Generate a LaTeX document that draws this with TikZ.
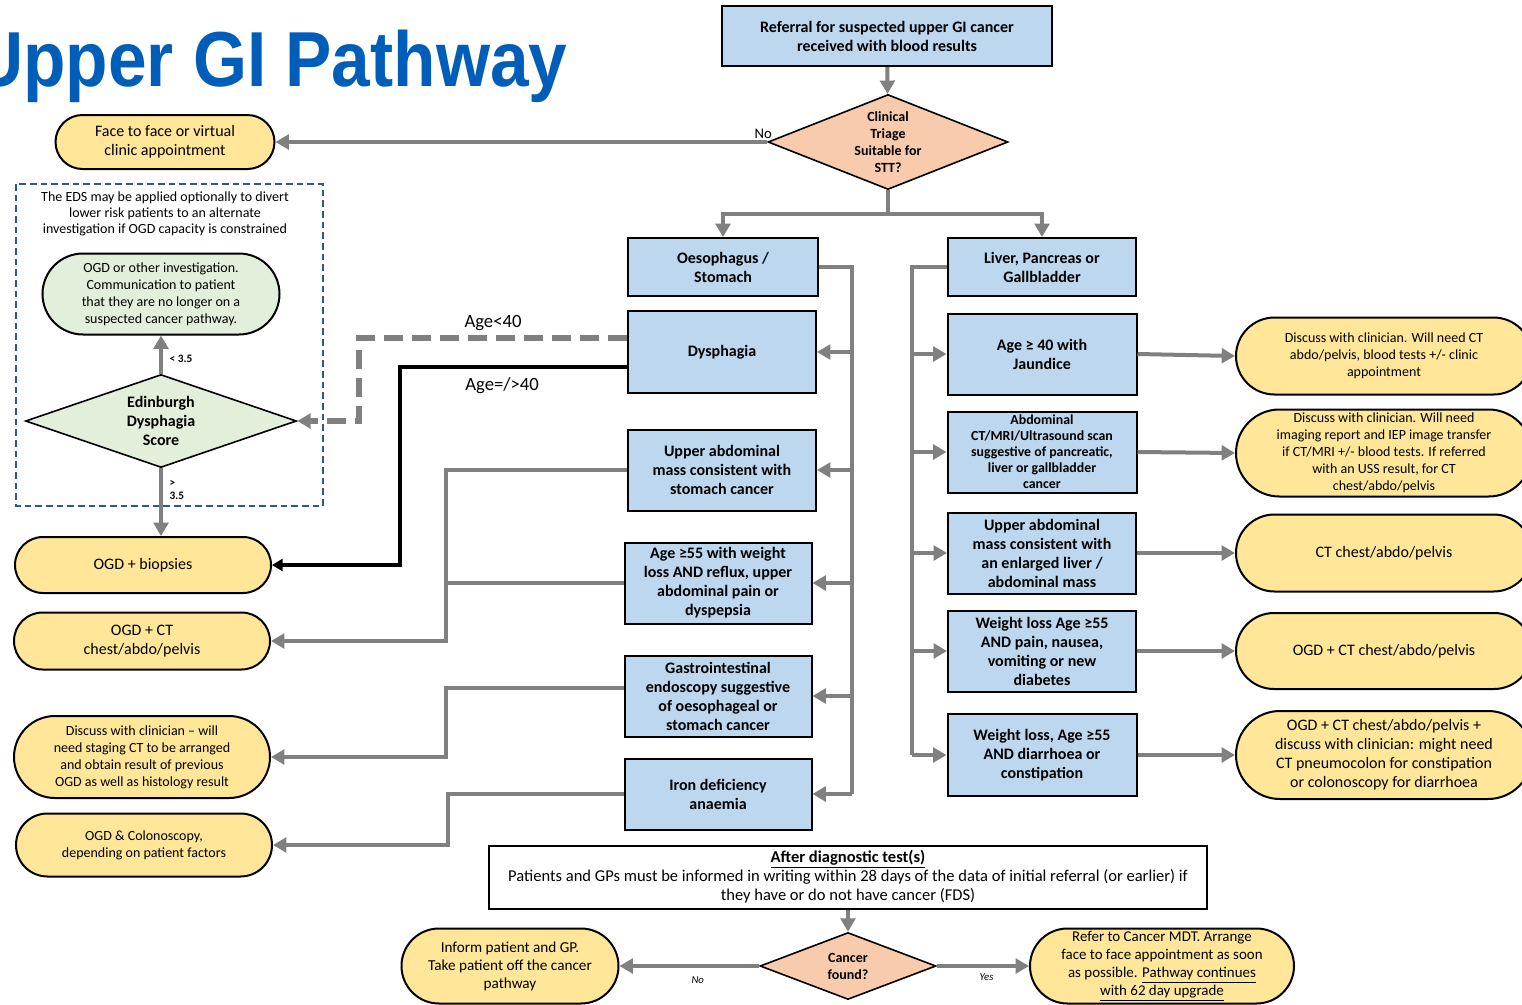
\documentclass[tikz,border=0pt]{standalone}
\usepackage{fontspec}
\setmainfont{Carlito}
\newfontfamily\titlefont{Liberation Sans}
\usetikzlibrary{arrows.meta,shapes.geometric,shapes.misc}
\definecolor{boxblue}{HTML}{BDD7EE}
\definecolor{peach}{HTML}{F8CBAD}
\definecolor{endyellow}{HTML}{FFE699}
\definecolor{edsgreen}{HTML}{E2EFDA}
\definecolor{flowgray}{HTML}{808080}
\definecolor{edsblue}{HTML}{2F5597}
\definecolor{nhsblue}{HTML}{005EB8}
\newcommand\fs[2]{\fontsize{#1}{#2}\selectfont}

\begin{document}
\begin{tikzpicture}[x=0.75pt, y=-0.75pt,
  wh/.style 2 args={minimum width=#1*0.75pt, minimum height=#2*0.75pt},
  stepbox/.style={draw, line width=1.5pt, fill=boxblue, align=center, inner sep=0pt, font=\fs{12}{14.25}\bfseries},
  endbox/.style={rounded rectangle, draw, line width=1.5pt, fill=endyellow, align=center, inner sep=0pt, font=\fs{12}{14.25}},
  smalltext/.style={font=\fs{10.5}{12.75}},
  decision/.style={diamond, draw, line width=1.2pt, fill=peach, inner sep=0pt},
  dtext/.style={align=center, font=\fs{10.5}{12.75}\bfseries},
  flow/.style={draw=flowgray, line width=3pt, -{Triangle[length=10pt,width=11pt]}},
  bus/.style={draw=flowgray, line width=3pt},
  thinflow/.style={draw=flowgray, line width=2.6pt, -{Triangle[length=10pt,width=11pt]}},
  lbl/.style={font=\fs{8.5}{10}\bfseries, align=left, inner sep=1pt}]

\useasboundingbox (0,0) rectangle (1522,1004);

\node[anchor=base east, text=nhsblue, font=\titlefont\fs{58.5}{60}\bfseries] (title) at (572,86)
  {\scalebox{0.89}[1]{Upper GI Pathway}};

\node[stepbox, wh={330}{60}] (ref) at (887,36) {Referral for suspected upper GI cancer\\received with blood results};
\node[decision, wh={240}{95}] (triage) at (888,142) {};
\node[dtext] at (triage) {Clinical\\Triage\\Suitable for\\STT?};
\node[endbox, wh={219}{54}] (face) at (165,142) {Face to face or virtual\\clinic appointment};

\draw[flow] (ref) -- (triage);
\draw[flow] (triage.west) node[above left, inner sep=1pt, xshift=6pt, font=\fs{11}{12}] {No} -- (face.east);

\draw[edsblue, line width=1.5pt, dash pattern=on 5pt off 3pt] (16,184) rectangle (323,506);
\node[align=center, font=\fs{10.5}{12}] (edsnote) at (165,214) {The EDS may be applied optionally to divert\\lower risk patients to an alternate\\investigation if OGD capacity is constrained};
\node[endbox, fill=edsgreen, smalltext, wh={237}{81}] (alt) at (161,294) {OGD or other investigation.\\Communication to patient\\that they are no longer on a\\suspected cancer pathway.};
\node[decision, fill=edsgreen, wh={271}{93}] (eds) at (161,421) {};
\node[dtext, font=\fs{12}{14.25}\bfseries] at (eds) {Edinburgh\\Dysphagia\\Score};

\node[endbox, wh={256}{56}] (biop) at (143,565) {OGD + biopsies};
\node[endbox, wh={256}{57}] (ogdct) at (142,641) {OGD + CT\\chest/abdo/pelvis};
\node[endbox, smalltext, wh={256}{82}] (stage) at (142,757) {Discuss with clinician -- will\\need staging CT to be arranged\\and obtain result of previous\\OGD as well as histology result};
\node[endbox, smalltext, wh={256}{63}] (colono) at (144,845) {OGD \& Colonoscopy,\\depending on patient factors};

\draw[flow] (eds.north) -- node[lbl, pos=0.4, right=4pt] {< 3.5} (alt.south);
\draw[flow] (eds.south) -- node[lbl, pos=0.32, right=4pt] {>\\3.5} (eds.south |- biop.north);

\node[stepbox, wh={190}{58}] (oes) at (723,267) {Oesophagus /\\Stomach};
\node[stepbox, wh={188}{58}] (liver) at (1042,267) {Liver, Pancreas or\\Gallbladder};
\draw[flow] (triage.south) -- ++(0,24) -| (oes.north);
\draw[flow] (triage.south) -- ++(0,24) -| (liver.north);

\node[stepbox, wh={188}{82}] (dys) at (722,352) {Dysphagia};
\node[stepbox, wh={188}{81}] (uam) at (722,470) {Upper abdominal\\mass consistent with\\stomach cancer};
\node[stepbox, wh={187}{81}] (age55) at (718,583) {Age ≥55 with weight\\loss AND reflux, upper\\abdominal pain or\\dyspepsia};
\node[stepbox, wh={187}{81}] (gastro) at (718,696) {Gastrointestinal\\endoscopy suggestive\\of oesophageal or\\stomach cancer};
\node[stepbox, wh={187}{71}] (iron) at (718,794) {Iron deficiency\\anaemia};

\node[stepbox, wh={189}{81}] (jaund) at (1042,354) {Age ≥ 40 with\\Jaundice};
\node[stepbox, wh={189}{81}, font=\fs{10.4}{12}\bfseries] (scan) at (1042,452) {Abdominal\\CT/MRI/Ultrasound scan\\suggestive of pancreatic,\\liver or gallbladder\\cancer};
\node[stepbox, wh={188}{81}] (liverm) at (1042,553) {Upper abdominal\\mass consistent with\\an enlarged liver /\\abdominal mass};
\node[stepbox, wh={188}{81}] (wlpain) at (1042,651) {Weight loss Age ≥55\\AND pain, nausea,\\vomiting or new\\diabetes};
\node[stepbox, wh={189}{82}] (wldia) at (1042,755) {Weight loss, Age ≥55\\AND diarrhoea or\\constipation};

\node[endbox, smalltext, wh={296}{77}] (r1) at (1384,356) {Discuss with clinician. Will need CT\\abdo/pelvis, blood tests +/- clinic\\appointment};
\node[endbox, smalltext, wh={296}{87}] (r2) at (1384,453) {Discuss with clinician. Will need\\imaging report and IEP image transfer\\if CT/MRI +/- blood tests. If referred\\with an USS result, for CT\\chest/abdo/pelvis};
\node[endbox, wh={296}{77}] (r3) at (1384,553) {CT chest/abdo/pelvis};
\node[endbox, wh={296}{76}] (r4) at (1384,651) {OGD + CT chest/abdo/pelvis};
\node[endbox, wh={296}{88}] (r5) at (1384,755) {OGD + CT chest/abdo/pelvis +\\discuss with clinician: might need\\CT pneumocolon for constipation\\or colonoscopy for diarrhoea};

\coordinate (lbus) at (852,266);
\coordinate (rbus) at (912,266);
\coordinate (lcol) at (446,470);
\draw[bus] (oes.east) -| (lbus |- iron.east);
\draw[bus] (liver.west) -| (rbus |- wldia.west);
\foreach \n in {dys,uam,age55,gastro,iron}
  \draw[flow] (lbus |- \n.east) -- (\n.east);
\foreach \n in {jaund,scan,liverm,wlpain,wldia}
  \draw[flow] (rbus |- \n.west) -- (\n.west);
\foreach \a/\b in {jaund/r1,scan/r2,liverm/r3,wlpain/r4,wldia/r5}
  \draw[flow] (\a.east) -- (\b.west);

\draw[flowgray, line width=4pt, dash pattern=on 14pt off 7pt, -{Triangle[length=10pt,width=11pt]}]
  ([yshift=10.5pt]dys.west) -- node[midway, above, text=black, font=\fs{14}{16}] {Age<40} ++(-268,0) |- (eds.east);
\draw[black, line width=2.4pt, -{Triangle[length=8pt,width=9pt]}]
  ([yshift=-11.25pt]dys.west) -- node[pos=0.55, below=3pt, font=\fs{14}{16}] {Age=/>40} ++(-227,0) |- (biop.east);

\draw[thinflow] (uam.west) -- (uam.west -| lcol) |- (ogdct.east);
\draw[bus, line width=2.6pt] (age55.west) -- (age55.west -| lcol);
\draw[thinflow] ([yshift=6pt]gastro.west) -- ([yshift=6pt]gastro.west -| lcol) |- (stage.east);
\draw[thinflow] (iron.west) -- ([xshift=1.5pt]iron.west -| lcol) |- (colono.east);

\node[draw, line width=1.5pt, fill=white, align=center, inner sep=0pt, wh={718}{63}, font=\fs{12.4}{14.25}] (after) at (848,877)
  {\textbf{\underline{After diagnostic test(s)}}\\Patients and GPs must be informed in writing within 28 days of the data of initial referral (or earlier) if\\they have or do not have cancer (FDS)};
\node[decision, wh={176}{67}] (cancer) at (848,966) {};
\node[dtext] at (cancer) {Cancer\\found?};
\node[endbox, wh={217}{75}, font=\fs{11.4}{13.5}] (inform) at (510,966) {Inform patient and GP.\\Take patient off the cancer\\pathway};
\node[endbox, wh={264}{75}, font=\fs{11.2}{13.5}] (refer) at (1162,966) {Refer to Cancer MDT. Arrange\\face to face appointment as soon\\as possible. \underline{Pathway continues}\\\underline{with 62 day upgrade}};

\draw[flow] (after) -- (cancer);
\draw[flow] (cancer.west) -- node[pos=0.44, below=3pt, font=\fs{8}{9}\itshape] {No} (inform.east);
\draw[flow] (cancer.east) -- node[pos=0.54, below=1pt, font=\fs{8}{9}\itshape] {Yes} (refer.west);

\end{tikzpicture}
\end{document}
